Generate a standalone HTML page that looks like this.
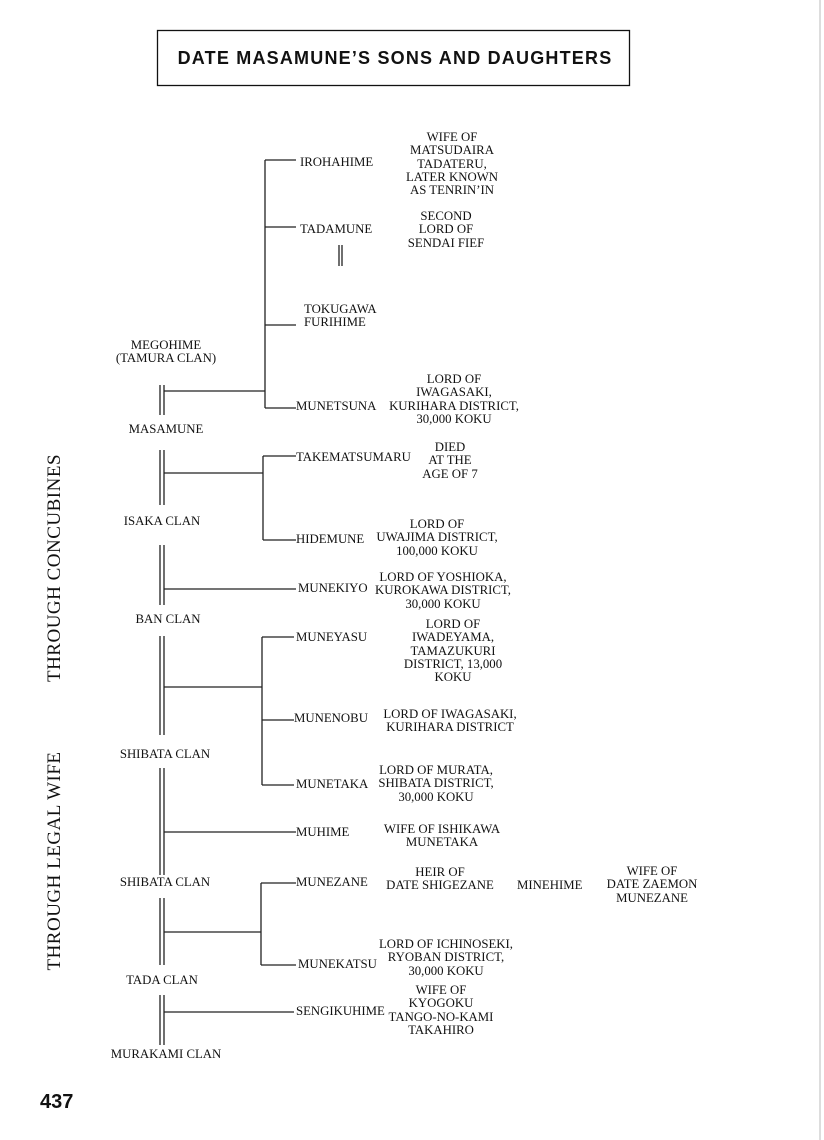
<!DOCTYPE html>
<html><head><meta charset="utf-8">
<style>
body{margin:0;background:#fff;}
#p{position:relative;width:824px;height:1140px;overflow:hidden;background:#fff;font-family:"Liberation Serif",serif;color:#111;}
.t{position:absolute;font-size:12.8px;line-height:13.3px;white-space:nowrap;}
.c{text-align:center;transform:translateX(-50%);}
svg{position:absolute;left:0;top:0;}
.side{position:absolute;font-family:"Liberation Serif",serif;font-size:19px;white-space:nowrap;transform:translate(-50%,-50%) rotate(-90deg);letter-spacing:0.5px;}
</style></head><body><div id="p">
<svg width="824" height="1140">
<rect x="157.5" y="30.5" width="472" height="55" fill="none" stroke="#111" stroke-width="1.3"/>
<line x1="820" y1="0" x2="820" y2="1140" stroke="#ddd" stroke-width="2"/>
<g stroke="#222" stroke-width="1.3" fill="none">
<path d="M160 385V415M164 385V415M160 450V505M164 450V505M160 545V605M164 545V605M160 636V735M164 636V735M160 768V875M164 768V875M160 898V965M164 898V965M160 995V1045M164 995V1045"/>
<path d="M339 245V266M342 245V266"/>
<path d="M164 391H265M265 160V408M265 160H296M265 227H296M265 325H296M265 408H296"/>
<path d="M164 473H263M263 456V540M263 456H296M263 540H296"/>
<path d="M164 589H296"/>
<path d="M164 687H262M262 637V785M262 637H294M262 720H294M262 785H294"/>
<path d="M164 832H296"/>
<path d="M164 932H261M261 883V965M261 883H296M261 965H296"/>
<path d="M164 1012H294"/>
</g>
</svg>
<div class="t" style="left:395px;top:52px;width:0"><div class="c" style="position:absolute;font-family:'Liberation Sans',sans-serif;font-weight:bold;font-size:18px;letter-spacing:1.2px">DATE MASAMUNE’S SONS AND DAUGHTERS</div></div>

<div class="side" style="left:55px;top:568px">THROUGH CONCUBINES</div>
<div class="side" style="left:55px;top:861px">THROUGH LEGAL WIFE</div>

<div class="t" style="left:40px;top:1096px;font-family:'Liberation Sans',sans-serif;font-weight:bold;font-size:20px">437</div>

<div class="t" style="left:300px;top:156px">IROHAHIME</div>
<div class="t c" style="left:452px;top:131px">WIFE OF<br>MATSUDAIRA<br>TADATERU,<br>LATER KNOWN<br>AS TENRIN’IN</div>
<div class="t" style="left:300px;top:223px">TADAMUNE</div>
<div class="t c" style="left:446px;top:210px">SECOND<br>LORD OF<br>SENDAI FIEF</div>
<div class="t" style="left:304px;top:303px">TOKUGAWA<br>FURIHIME</div>
<div class="t c" style="left:166px;top:339px">MEGOHIME<br>(TAMURA CLAN)</div>
<div class="t" style="left:296px;top:400px">MUNETSUNA</div>
<div class="t c" style="left:454px;top:373px">LORD OF<br>IWAGASAKI,<br>KURIHARA DISTRICT,<br>30,000 KOKU</div>
<div class="t c" style="left:166px;top:423px">MASAMUNE</div>
<div class="t" style="left:296px;top:451px">TAKEMATSUMARU</div>
<div class="t c" style="left:450px;top:441px">DIED<br>AT THE<br>AGE OF 7</div>
<div class="t c" style="left:162px;top:515px">ISAKA CLAN</div>
<div class="t" style="left:296px;top:533px">HIDEMUNE</div>
<div class="t c" style="left:437px;top:518px">LORD OF<br>UWAJIMA DISTRICT,<br>100,000 KOKU</div>
<div class="t" style="left:298px;top:582px">MUNEKIYO</div>
<div class="t c" style="left:443px;top:571px">LORD OF YOSHIOKA,<br>KUROKAWA DISTRICT,<br>30,000 KOKU</div>
<div class="t c" style="left:168px;top:613px">BAN CLAN</div>
<div class="t" style="left:296px;top:631px">MUNEYASU</div>
<div class="t c" style="left:453px;top:618px">LORD OF<br>IWADEYAMA,<br>TAMAZUKURI<br>DISTRICT, 13,000<br>KOKU</div>
<div class="t" style="left:294px;top:712px">MUNENOBU</div>
<div class="t c" style="left:450px;top:708px">LORD OF IWAGASAKI,<br>KURIHARA DISTRICT</div>
<div class="t c" style="left:165px;top:748px">SHIBATA CLAN</div>
<div class="t" style="left:296px;top:778px">MUNETAKA</div>
<div class="t c" style="left:436px;top:764px">LORD OF MURATA,<br>SHIBATA DISTRICT,<br>30,000 KOKU</div>
<div class="t" style="left:296px;top:826px">MUHIME</div>
<div class="t c" style="left:442px;top:823px">WIFE OF ISHIKAWA<br>MUNETAKA</div>
<div class="t c" style="left:165px;top:876px">SHIBATA CLAN</div>
<div class="t" style="left:296px;top:876px">MUNEZANE</div>
<div class="t c" style="left:440px;top:866px">HEIR OF<br>DATE SHIGEZANE</div>
<div class="t" style="left:517px;top:879px">MINEHIME</div>
<div class="t c" style="left:652px;top:865px">WIFE OF<br>DATE ZAEMON<br>MUNEZANE</div>
<div class="t" style="left:298px;top:958px">MUNEKATSU</div>
<div class="t c" style="left:446px;top:938px">LORD OF ICHINOSEKI,<br>RYOBAN DISTRICT,<br>30,000 KOKU</div>
<div class="t c" style="left:162px;top:974px">TADA CLAN</div>
<div class="t" style="left:296px;top:1005px">SENGIKUHIME</div>
<div class="t c" style="left:441px;top:984px">WIFE OF<br>KYOGOKU<br>TANGO-NO-KAMI<br>TAKAHIRO</div>
<div class="t c" style="left:166px;top:1048px">MURAKAMI CLAN</div>
</div></body></html>
